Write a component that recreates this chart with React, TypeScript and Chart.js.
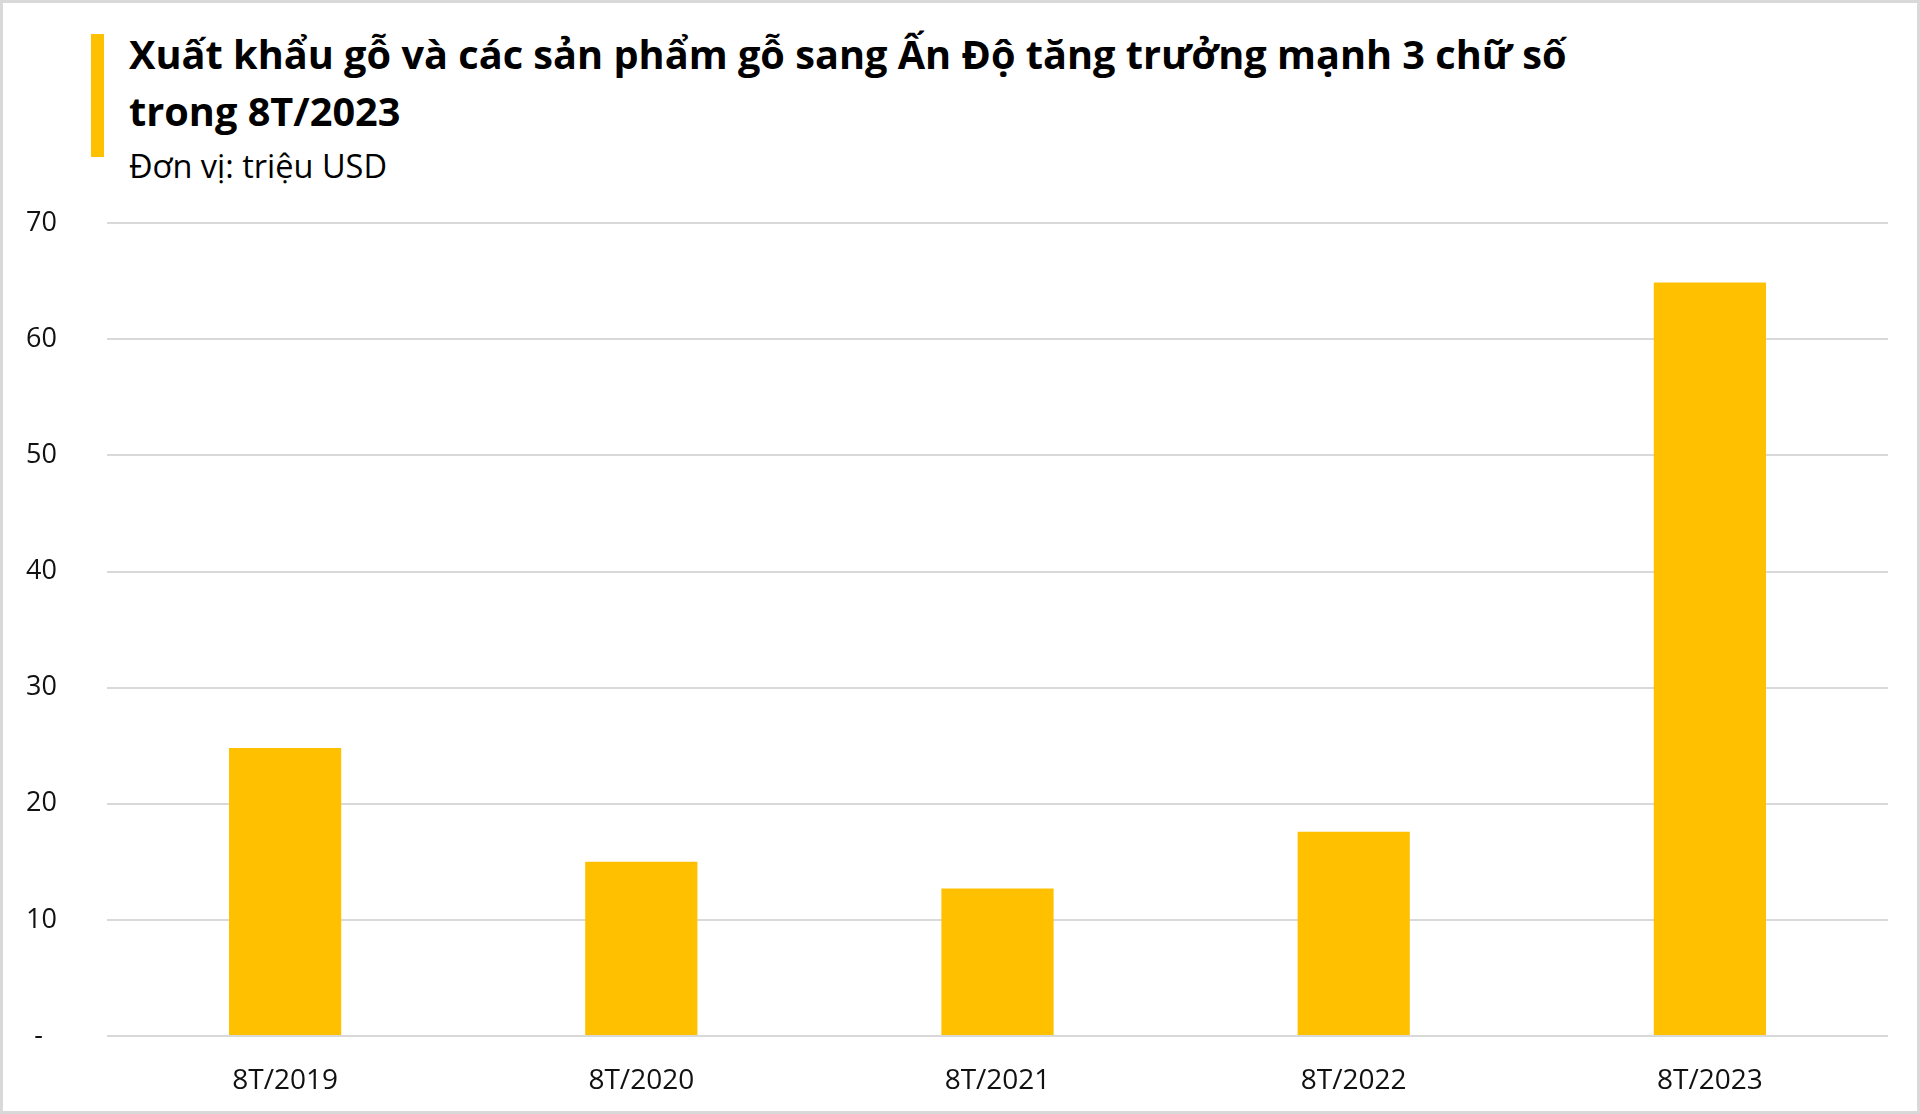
import React, { useEffect, useRef } from "react";
import { Chart, registerables } from "chart.js";

Chart.register(...registerables);

const periods = ["8T/2019", "8T/2020", "8T/2021", "8T/2022", "8T/2023"];
const exportValues = [24.8, 15.0, 12.7, 17.6, 64.9]; // triệu USD
const yTicks = [0, 10, 20, 30, 40, 50, 60, 70];

const titleText = "Xuất khẩu gỗ và các sản phẩm gỗ sang Ấn Độ tăng trưởng mạnh 3 chữ số";
const titleText2 = "trong 8T/2023";
const unitText = "Đơn vị: triệu USD";

const FONT = "'Open Sans', 'Noto Sans', sans-serif";

const App = () => {
  const chartRef = useRef<HTMLCanvasElement>(null);

  useEffect(() => {
    const ctx = chartRef.current!.getContext("2d")!;
    const myChart = new Chart(ctx, {
      type: "bar",
      data: {
        labels: periods,
        datasets: [
          {
            label: "Xuất khẩu",
            data: exportValues,
            backgroundColor: "#FFC000",
            categoryPercentage: 1,
            barPercentage: 0.315,
          },
        ],
      },
      options: {
        animation: false,
        responsive: false,
        maintainAspectRatio: false,
        layout: { padding: { left: 0, right: 32, top: 16, bottom: 0 } },
        plugins: {
          legend: { display: false },
          tooltip: { enabled: false },
        },
        scales: {
          x: {
            grid: { display: false, drawTicks: false },
            border: { display: false },
            ticks: {
              color: "#111",
              font: { family: FONT, size: 28 },
              padding: 28,
            },
            afterFit: (scale) => {
              scale.height = 78;
            },
          },
          y: {
            min: 0,
            max: 70,
            afterBuildTicks: (scale) => {
              scale.ticks = yTicks.map((v) => ({ value: v }));
            },
            grid: { color: "#d9d9d9", lineWidth: 2, drawTicks: false },
            border: { display: false },
            ticks: {
              color: "#111",
              font: { family: FONT, size: 27 },
              padding: 50,
              callback: (value) => (Number(value) === 0 ? "-  " : `${value}`),
            },
            afterFit: (scale) => {
              scale.width = 107;
            },
          },
        },
      },
    });

    return () => {
      myChart.destroy();
    };
  }, []);

  return (
    <div
      style={{
        position: "absolute",
        left: 0,
        top: 0,
        width: 1920,
        height: 1114,
        background: "#fff",
        border: "3px solid #d9d9d9",
        boxSizing: "border-box",
        fontFamily: FONT,
        color: "#000",
        overflow: "hidden",
      }}
    >
      <div
        style={{
          position: "absolute",
          left: 88,
          top: 31,
          width: 13,
          height: 123,
          background: "#FFC000",
        }}
      />
      <div
        style={{
          position: "absolute",
          left: 126,
          top: 23,
          fontSize: 39.7,
          fontWeight: 700,
          lineHeight: "57px",
          whiteSpace: "nowrap",
        }}
      >
        <div>{titleText}</div>
        <div>{titleText2}</div>
      </div>
      <div
        style={{
          position: "absolute",
          left: 126,
          top: 140,
          fontSize: 32.5,
          whiteSpace: "nowrap",
        }}
      >
        {unitText}
      </div>
      <canvas
        ref={chartRef}
        width={1920}
        height={957}
        style={{ position: "absolute", left: -3, top: 154, width: 1920, height: 957 }}
      ></canvas>
    </div>
  );
};

export default App;
